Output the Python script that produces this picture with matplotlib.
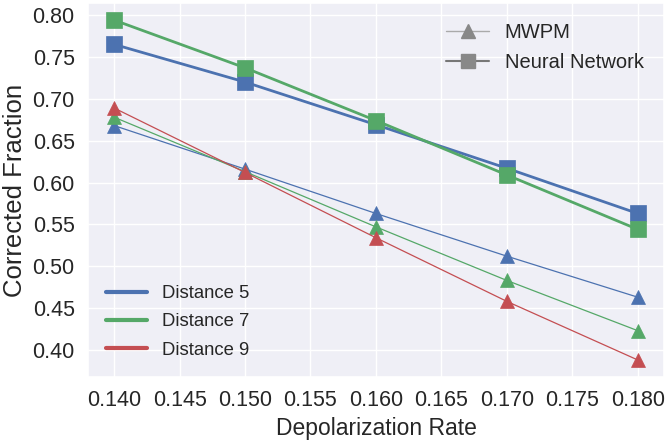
import matplotlib
matplotlib.use("Agg")
import matplotlib.pyplot as plt
import seaborn as sns
from matplotlib.lines import Line2D

sns.set_theme(style="darkgrid")
plt.rcParams['font.family'] = ['Liberation Sans', 'DejaVu Sans']

# depolarization rates
rates = [0.140, 0.150, 0.160, 0.170, 0.180]
distances = [5, 7, 9]

# neural network corrected fraction (d=9 not shown)
nn_d5 = [0.765, 0.720, 0.669, 0.617, 0.563]
nn_d7 = [0.794, 0.737, 0.674, 0.609, 0.544]

# MWPM corrected fraction
mwpm_d5 = [0.668, 0.616, 0.563, 0.512, 0.463]
mwpm_d7 = [0.678, 0.613, 0.547, 0.483, 0.423]
mwpm_d9 = [0.689, 0.612, 0.534, 0.458, 0.388]

colors = {5: '#4C72B0', 7: '#55A868', 9: '#C44E52'}

fig = plt.figure(figsize=(6.66, 4.43), dpi=100)
ax = fig.add_axes([0.132, 0.149, 0.865, 0.844])
ax.set_facecolor('#EFEFF6')

# MWPM: thin lines with triangles
for d, vals in zip(distances, [mwpm_d5, mwpm_d7, mwpm_d9]):
    ax.plot(rates, vals, color=colors[d], lw=0.9, marker='^', ms=10.5,
            mec=colors[d], mew=0.5)

# neural network: thick lines with squares
for d, vals in zip([5, 7], [nn_d5, nn_d7]):
    ax.plot(rates, vals, color=colors[d], lw=2.0, marker='s', ms=11,
            mec=colors[d], mew=0.5)

ax.set_xticks([0.140, 0.145, 0.150, 0.155, 0.160, 0.165, 0.170, 0.175, 0.180])
ax.set_yticks([0.40, 0.45, 0.50, 0.55, 0.60, 0.65, 0.70, 0.75, 0.80])
ax.xaxis.set_major_formatter(matplotlib.ticker.FormatStrFormatter('%.3f'))
ax.yaxis.set_major_formatter(matplotlib.ticker.FormatStrFormatter('%.2f'))
ax.tick_params(labelsize=15.5, colors='#262626')
ax.set_xlabel("Depolarization Rate", fontsize=16.5, color='#262626')
ax.set_ylabel("Corrected Fraction", fontsize=18.5, color='#262626')

# legend for distances
dist_handles = [Line2D([], [], color=colors[d], lw=3) for d in distances]
leg1 = ax.legend(dist_handles, ["Distance %d" % d for d in distances],
                 loc='lower left', fontsize=13.3, frameon=False,
                 handlelength=2.2, handletextpad=0.8, labelspacing=0.6,
                 borderaxespad=0.6)
ax.add_artist(leg1)

# legend for decoders
dec_handles = [Line2D([], [], color='#AAAAAA', lw=1, marker='^', ms=9.5, mfc='#888888', mec='#888888'),
               Line2D([], [], color='#777777', lw=1.5, marker='s', ms=10, mfc='#888888', mec='#888888')]
ax.legend(dec_handles, ["MWPM", "Neural Network"], loc='upper right',
          fontsize=14.5, frameon=False, handlelength=2.1, borderaxespad=0.6,
          labelspacing=0.55)

fig.savefig("out.png", dpi=100)
